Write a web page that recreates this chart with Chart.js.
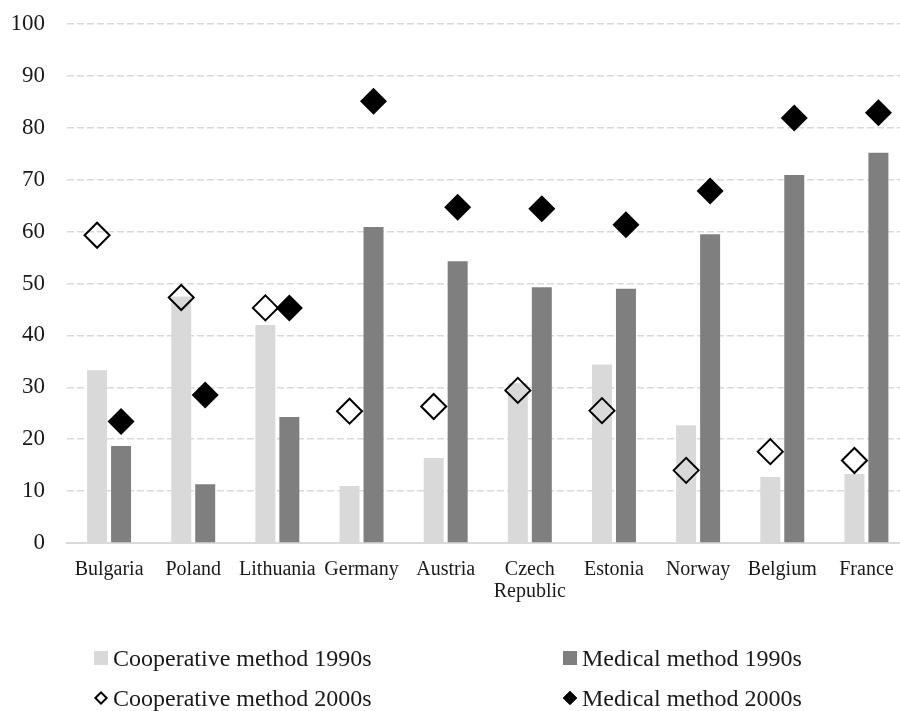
<!DOCTYPE html>
<html>
<head>
<meta charset="utf-8">
<script src="https://cdn.jsdelivr.net/npm/chart.js@4.4.1/dist/chart.umd.min.js"></script>
<style>
  html, body { margin: 0; padding: 0; background: #fff; overflow: hidden; }
  #wrap { position: relative; width: 900px; height: 711px; overflow: hidden; }
  #chart { position: absolute; left: 0; top: 0; }
  #legend { font-family: 'Liberation Serif', serif; font-size: 24px; color: #1a1a1a; }
  .item { position: absolute; display: flex; align-items: center; white-space: nowrap; height: 30px; }
  .mark { width: 14px; height: 14px; margin-right: 5px; display: flex; align-items: center; justify-content: center; }
  .swatch { width: 14px; height: 14px; }
  .diamond { width: 10px; height: 10px; box-sizing: border-box; transform: rotate(45deg); }
</style>
</head>
<body>
<div id="wrap">
  <canvas id="chart" width="923" height="711"></canvas>
  <div id="legend"></div>
</div>
<script>
// Countries along the x axis
const countries = ['Bulgaria', 'Poland', 'Lithuania', 'Germany', 'Austria',
    ['Czech', 'Republic'], 'Estonia', 'Norway', 'Belgium', 'France'];

// Shares (%) per country
const cooperative1990s = [33.3, 47.5, 42.0, 11.0, 16.4, 30.8, 34.4, 22.7, 12.7, 13.3];
const medical1990s     = [18.7, 11.3, 24.3, 60.9, 54.3, 49.3, 49.0, 59.5, 70.9, 75.2];
const cooperative2000s = [59.3, 47.3, 45.3, 25.4, 26.3, 29.4, 25.5, 14.0, 17.6, 15.9];
const medical2000s     = [23.4, 28.5, 45.3, 85.1, 64.7, 64.4, 61.3, 67.8, 81.9, 82.9];

const yTicks = [0, 10, 20, 30, 40, 50, 60, 70, 80, 90, 100];

const LIGHT = '#d9d9d9';
const DARK = '#7f7f7f';
const FONT = 'Liberation Serif';

// Put each diamond over the bar of the same method instead of the category centre
const alignToBars = {
    id: 'alignToBars',
    afterDatasetsUpdate(chart) {
        chart.data.datasets.forEach((ds, i) => {
            if (ds.overBar === undefined) return;
            const bars = chart.getDatasetMeta(ds.overBar).data;
            chart.getDatasetMeta(i).data.forEach((pt, j) => {
                pt.x = bars[j].x;
            });
        });
    }
};

const datasets = [
    {
        type: 'bar',
        label: 'Cooperative method 1990s',
        data: cooperative1990s,
        backgroundColor: LIGHT,
        order: 2
    },
    {
        type: 'bar',
        label: 'Medical method 1990s',
        data: medical1990s,
        backgroundColor: DARK,
        order: 2
    },
    {
        type: 'line',
        label: 'Cooperative method 2000s',
        data: cooperative2000s,
        showLine: false,
        pointStyle: 'rectRot',
        pointRadius: 12.5,
        pointBackgroundColor: 'rgba(0,0,0,0)',
        pointBorderColor: '#000',
        pointBorderWidth: 2,
        overBar: 0,
        order: 1
    },
    {
        type: 'line',
        label: 'Medical method 2000s',
        data: medical2000s,
        showLine: false,
        pointStyle: 'rectRot',
        pointRadius: 13.5,
        pointBackgroundColor: '#000',
        pointBorderColor: '#000',
        pointBorderWidth: 0,
        overBar: 1,
        order: 1
    }
];

const chart = new Chart(document.getElementById('chart'), {
    data: { labels: countries, datasets: datasets },
    plugins: [alignToBars],
    options: {
        responsive: false,
        animation: false,
        events: [],
        categoryPercentage: 0.57,
        barPercentage: 0.833,
        layout: { padding: { top: 24, right: 1, bottom: 98, left: 0 } },
        plugins: {
            legend: { display: false },
            tooltip: { enabled: false }
        },
        scales: {
            x: {
                grid: { display: false },
                border: { display: true, color: LIGHT, width: 2 },
                ticks: {
                    color: '#1a1a1a',
                    font: { family: FONT, size: 20, lineHeight: 1.1 },
                    padding: 8,
                    maxRotation: 0,
                    autoSkip: false
                },
                afterFit: (scale) => { scale.height = 70; }
            },
            y: {
                min: 0,
                max: 100,
                afterBuildTicks: (scale) => {
                    scale.ticks = yTicks.map(v => ({ value: v }));
                },
                grid: {
                    color: (ctx) => ctx.tick && ctx.tick.value === 0 ? 'rgba(0,0,0,0)' : LIGHT,
                    lineWidth: 1.5,
                    drawTicks: false
                },
                border: { display: false, dash: [7, 3] },
                ticks: {
                    color: '#1a1a1a',
                    font: { family: FONT, size: 23 },
                    padding: 22
                },
                afterFit: (scale) => {
                    // fixed gutter for the tick labels; the label gap should not push the plot down
                    scale.width = 67;
                    scale.paddingTop = 0;
                    scale.paddingBottom = 0;
                }
            }
        }
    }
});

// Two-column legend under the plot, built from the chart's own datasets
const legendEl = document.getElementById('legend');
const legendCols = [94, 563];
const legendRows = [658, 698];
chart.data.datasets.forEach((ds, i) => {
    const item = document.createElement('div');
    item.className = 'item';
    item.style.left = legendCols[i % 2] + 'px';
    item.style.top = (legendRows[Math.floor(i / 2)] - 15) + 'px';

    const mark = document.createElement('div');
    mark.className = 'mark';
    const shape = document.createElement('div');
    if (ds.type === 'bar') {
        shape.className = 'swatch';
        shape.style.background = ds.backgroundColor;
    } else {
        shape.className = 'diamond';
        shape.style.background = ds.pointBackgroundColor;
        shape.style.border = '2px solid ' + ds.pointBorderColor;
    }
    mark.appendChild(shape);

    const text = document.createElement('span');
    text.textContent = ds.label;

    item.appendChild(mark);
    item.appendChild(text);
    legendEl.appendChild(item);
});
</script>
</body>
</html>
